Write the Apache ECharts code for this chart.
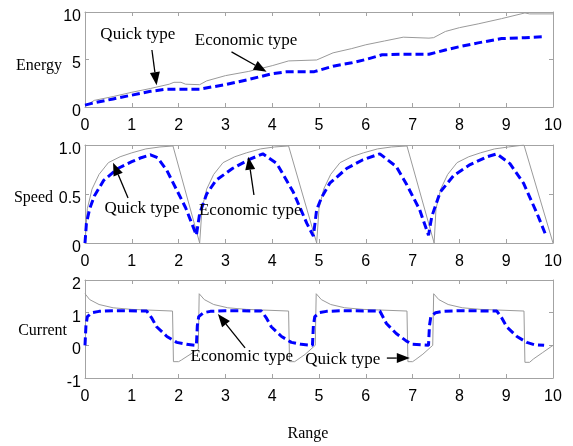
<!DOCTYPE html>
<html>
<head>
<meta charset="utf-8">
<script src="https://cdn.jsdelivr.net/npm/echarts@6/dist/echarts.min.js"></script>
<style>
  html, body { margin: 0; padding: 0; background: #fff; }
  #chart { width: 573px; height: 446px; }
</style>
</head>
<body>
<div id="chart"></div>
<script>
// Range ticks shared by the three panels
const rangeTicks = [0, 1, 2, 3, 4, 5, 6, 7, 8, 9, 10];
const energyTicks = [0, 5, 10];
const speedTicks = ['0', '0.5', '1.0'];
const currentTicks = [-1, 0, 1, 2];

// Energy vs range: [range, energy]
const energyQuick = [
  [0, 0.1], [0.2, 0.7], [0.6, 1.1], [1.0, 1.55], [1.4, 1.95], [1.8, 2.4], [1.9, 2.6],
  [2.05, 2.6], [2.15, 2.4], [2.45, 2.35], [2.6, 2.75], [3.0, 3.3], [3.5, 3.75],
  [4.0, 4.35], [4.35, 4.85], [4.95, 4.95], [5.3, 5.7], [5.7, 6.15], [6.0, 6.55],
  [6.4, 6.95], [6.8, 7.35], [7.35, 7.25], [7.45, 7.3], [7.7, 7.95], [8.0, 8.35],
  [8.4, 8.75], [8.9, 9.3], [9.4, 9.9], [9.5, 9.8], [10, 9.8]
];
const energyEconomic = [
  [0, 0.2], [0.2, 0.45], [0.6, 0.85], [1.0, 1.25], [1.4, 1.65], [1.7, 1.85], [2.0, 1.88],
  [2.45, 1.88], [2.7, 2.1], [3.0, 2.35], [3.5, 2.9], [4.0, 3.5], [4.3, 3.7], [4.9, 3.72],
  [5.3, 4.3], [5.7, 4.65], [6.0, 5.0], [6.35, 5.5], [6.8, 5.55], [7.35, 5.55], [7.7, 6.0],
  [8.0, 6.35], [8.4, 6.75], [8.9, 7.2], [9.4, 7.3], [9.8, 7.4]
];

// Speed vs range: [range, speed]
const speedQuick = [
  [0, 0], [0.05, 0.35], [0.15, 0.55], [0.3, 0.7], [0.5, 0.82], [0.75, 0.88], [1.0, 0.92],
  [1.3, 0.96], [1.6, 0.98], [1.88, 0.99], [2.45, 0],
  [2.5, 0.35], [2.6, 0.55], [2.75, 0.7], [2.95, 0.82], [3.2, 0.88], [3.45, 0.92],
  [3.75, 0.96], [4.05, 0.98], [4.35, 0.99], [4.95, 0],
  [5.0, 0.35], [5.1, 0.55], [5.25, 0.7], [5.45, 0.82], [5.7, 0.88], [5.95, 0.92],
  [6.25, 0.96], [6.55, 0.98], [6.88, 0.99], [7.46, 0],
  [7.5, 0.35], [7.6, 0.55], [7.75, 0.7], [7.95, 0.82], [8.2, 0.88], [8.45, 0.92],
  [8.75, 0.96], [9.05, 0.98], [9.38, 1.0], [10, 0]
];
const speedEconomic = [
  [0, 0], [0.03, 0.2], [0.1, 0.35], [0.2, 0.48], [0.4, 0.64], [0.7, 0.76], [1.0, 0.83],
  [1.2, 0.87], [1.4, 0.9], [1.55, 0.87], [1.75, 0.74], [1.95, 0.55], [2.15, 0.36], [2.38, 0.08],
  [2.45, 0.3], [2.6, 0.5], [2.8, 0.64], [3.15, 0.76], [3.5, 0.85], [3.8, 0.91], [4.1, 0.81],
  [4.45, 0.52], [4.74, 0.2], [4.88, 0.07],
  [4.95, 0.34], [5.06, 0.47], [5.23, 0.61], [5.59, 0.76], [5.94, 0.85], [6.3, 0.91],
  [6.65, 0.78], [6.87, 0.6], [7.15, 0.34], [7.34, 0.08],
  [7.41, 0.27], [7.59, 0.52], [7.88, 0.69], [8.23, 0.8], [8.59, 0.88], [8.8, 0.91],
  [9.08, 0.81], [9.37, 0.61], [9.66, 0.3], [9.83, 0.1]
];

// Current vs range: [range, current]
const currentQuick = [
  [0, 1.58], [0.1, 1.4], [0.3, 1.25], [0.6, 1.15], [1.0, 1.1], [1.87, 1.05], [1.89, -0.5],
  [2.0, -0.5], [2.06, -0.45], [2.2, -0.32], [2.42, -0.12],
  [2.44, 1.58], [2.55, 1.4], [2.75, 1.25], [3.05, 1.15], [3.45, 1.1], [4.35, 1.05], [4.37, -0.5],
  [4.48, -0.5], [4.55, -0.43], [4.7, -0.28], [4.92, 0],
  [4.94, 1.58], [5.05, 1.4], [5.25, 1.25], [5.55, 1.15], [5.95, 1.1], [6.88, 1.05], [6.9, -0.5],
  [7.0, -0.5], [7.07, -0.43], [7.22, -0.27], [7.43, 0],
  [7.45, 1.58], [7.56, 1.4], [7.76, 1.25], [8.06, 1.15], [8.46, 1.1], [9.38, 1.05], [9.4, -0.52],
  [9.5, -0.52], [9.58, -0.42], [9.78, -0.22], [10, 0]
];
const currentEconomic = [
  [0, 0], [0.02, 0.6], [0.05, 0.88], [0.15, 1.0], [0.3, 1.04], [0.6, 1.06], [1.32, 1.05],
  [1.42, 0.85], [1.53, 0.57], [1.75, 0.27], [1.96, 0.09], [2.17, 0.03], [2.38, 0],
  [2.4, 0.6], [2.43, 0.88], [2.53, 1.0], [2.68, 1.04], [3.0, 1.06], [3.77, 1.05],
  [3.87, 0.85], [3.98, 0.57], [4.2, 0.27], [4.41, 0.09], [4.62, 0.03], [4.86, 0],
  [4.88, 0.6], [4.91, 0.88], [5.01, 1.0], [5.16, 1.04], [5.5, 1.06], [6.3, 1.05],
  [6.44, 0.67], [6.65, 0.36], [6.87, 0.13], [7.0, 0.03], [7.34, 0],
  [7.36, 0.6], [7.39, 0.88], [7.49, 1.0], [7.64, 1.04], [8.0, 1.06], [8.8, 1.05],
  [8.9, 0.85], [9.01, 0.57], [9.23, 0.27], [9.44, 0.09], [9.6, 0.02], [9.81, 0]
];

const SANS = 'Liberation Sans';
const SERIF = 'Liberation Serif';
const FRAME = '#a3a3a3';

const grids = [
  { left: 85, right: 20, top: 12, height: 95 },
  { left: 85, right: 20, top: 145, height: 98 },
  { left: 85, right: 20, top: 280, height: 98 }
];

const yRanges = [
  { min: 0, max: 10, interval: 5, fmt: v => String(energyTicks[energyTicks.indexOf(v)]) },
  { min: 0, max: 1, interval: 0.5, fmt: v => speedTicks[Math.round(v * 2)] },
  { min: -1, max: 2, interval: 1, fmt: v => String(currentTicks[currentTicks.indexOf(v)]) }
];

const tick = { show: true, inside: true, length: 4, lineStyle: { color: FRAME } };
const line = { show: true, onZero: false, lineStyle: { color: FRAME, width: 1 } };

const xAxes = [];
const yAxes = [];
grids.forEach((g, i) => {
  xAxes.push({
    type: 'value', gridIndex: i, min: rangeTicks[0], max: rangeTicks[rangeTicks.length - 1], interval: 1,
    position: 'bottom', axisLine: line, axisTick: tick, splitLine: { show: false },
    axisLabel: { margin: 11, fontFamily: SANS, fontSize: 16, color: '#000',
                 formatter: v => String(rangeTicks[rangeTicks.indexOf(v)]) }
  });
});
grids.forEach((g, i) => {
  xAxes.push({
    type: 'value', gridIndex: i, min: 0, max: 10, interval: 1, position: 'top',
    axisLine: line, axisTick: tick, axisLabel: { show: false }, splitLine: { show: false }
  });
});
// Value labels sit a little below their ticks
yRanges.forEach((r, i) => {
  yAxes.push({
    type: 'value', gridIndex: i, min: r.min, max: r.max, interval: r.interval, position: 'left',
    axisLine: line, axisTick: tick, splitLine: { show: false },
    axisLabel: {
      margin: 4, formatter: v => '{v|' + r.fmt(v) + '}',
      rich: { v: { fontFamily: SANS, fontSize: 16, color: '#000', padding: [9, 0, 0, 0] } }
    }
  });
});
yRanges.forEach((r, i) => {
  yAxes.push({
    type: 'value', gridIndex: i, min: r.min, max: r.max, interval: r.interval, position: 'right',
    axisLine: line, axisTick: tick, axisLabel: { show: false }, splitLine: { show: false }
  });
});

const quickStyle = { color: '#9a9a9a', width: 1 };
const ecoStyle = { color: '#0000ff', width: 3, type: [8, 4] };

function mk(data, axis, style, z) {
  return { type: 'line', data, xAxisIndex: axis, yAxisIndex: axis, showSymbol: false,
           symbol: 'none', lineStyle: style, z, animation: false, silent: true };
}

const chart = echarts.init(document.getElementById('chart'), null, { renderer: 'canvas' });
chart.setOption({
  backgroundColor: '#fff',
  animation: false,
  grid: grids,
  xAxis: xAxes,
  yAxis: yAxes,
  series: [
    mk(energyQuick, 0, quickStyle, 2), mk(energyEconomic, 0, ecoStyle, 3),
    mk(speedQuick, 1, quickStyle, 2), mk(speedEconomic, 1, ecoStyle, 3),
    mk(currentQuick, 2, quickStyle, 2), mk(currentEconomic, 2, ecoStyle, 3)
  ]
});

// Callouts, anchored in each panel's own range/value coordinates
const callouts = [
  { grid: 0, text: 'Quick type', at: [1.13, 7.6], from: [1.43, 6.0], to: [1.53, 2.3] },
  { grid: 0, text: 'Economic type', at: [3.44, 6.95], from: [3.13, 5.8], to: [3.88, 3.72] },
  { grid: 1, text: 'Quick type', at: [1.22, 0.35], from: [0.92, 0.46], to: [0.6, 0.82] },
  { grid: 1, text: 'Economic type', at: [3.53, 0.33], from: [3.61, 0.49], to: [3.49, 0.88] },
  { grid: 2, text: 'Economic type', at: [3.35, -0.33], from: [3.42, -0.08], to: [2.84, 0.96] },
  { grid: 2, text: 'Quick type', at: [5.51, -0.42], from: [6.45, -0.39], to: [6.94, -0.39] }
];

function arrow(p1, p2) {
  const dx = p2[0] - p1[0], dy = p2[1] - p1[1];
  const L = Math.hypot(dx, dy), ux = dx / L, uy = dy / L;
  const hl = 13, hw = 5;
  const bx = p2[0] - ux * hl, by = p2[1] - uy * hl;
  return [
    { type: 'line', shape: { x1: p1[0], y1: p1[1], x2: bx, y2: by },
      style: { stroke: '#000', lineWidth: 1.3 }, z: 10 },
    { type: 'polygon', shape: { points: [[p2[0], p2[1]], [bx - uy * hw, by + ux * hw], [bx + uy * hw, by - ux * hw]] },
      style: { fill: '#000' }, z: 10 }
  ];
}

const graphics = [];
callouts.forEach(c => {
  const toPx = p => chart.convertToPixel({ gridIndex: c.grid }, p);
  const t = toPx(c.at);
  graphics.push({ type: 'text', x: t[0], y: t[1], z: 11,
    style: { text: c.text, font: '17px "' + SERIF + '"', fill: '#000', textAlign: 'center', textVerticalAlign: 'middle' } });
  arrow(toPx(c.from), toPx(c.to)).forEach(e => graphics.push(e));
});

// Panel titles on the left and the shared range caption
const panelNames = [
  { text: 'Energy', right: 62, y: 66 },
  { text: 'Speed', right: 53, y: 198 },
  { text: 'Current', right: 67, y: 331 }
];
panelNames.forEach(p => {
  graphics.push({ type: 'text', x: p.right, y: p.y,
    style: { text: p.text, font: '16px "' + SERIF + '"', fill: '#000', textAlign: 'right', textVerticalAlign: 'middle' } });
});
graphics.push({ type: 'text', x: 308, y: 434,
  style: { text: 'Range', font: '16px "' + SERIF + '"', fill: '#000', textAlign: 'center', textVerticalAlign: 'middle' } });

chart.setOption({ graphic: graphics });
</script>
</body>
</html>
